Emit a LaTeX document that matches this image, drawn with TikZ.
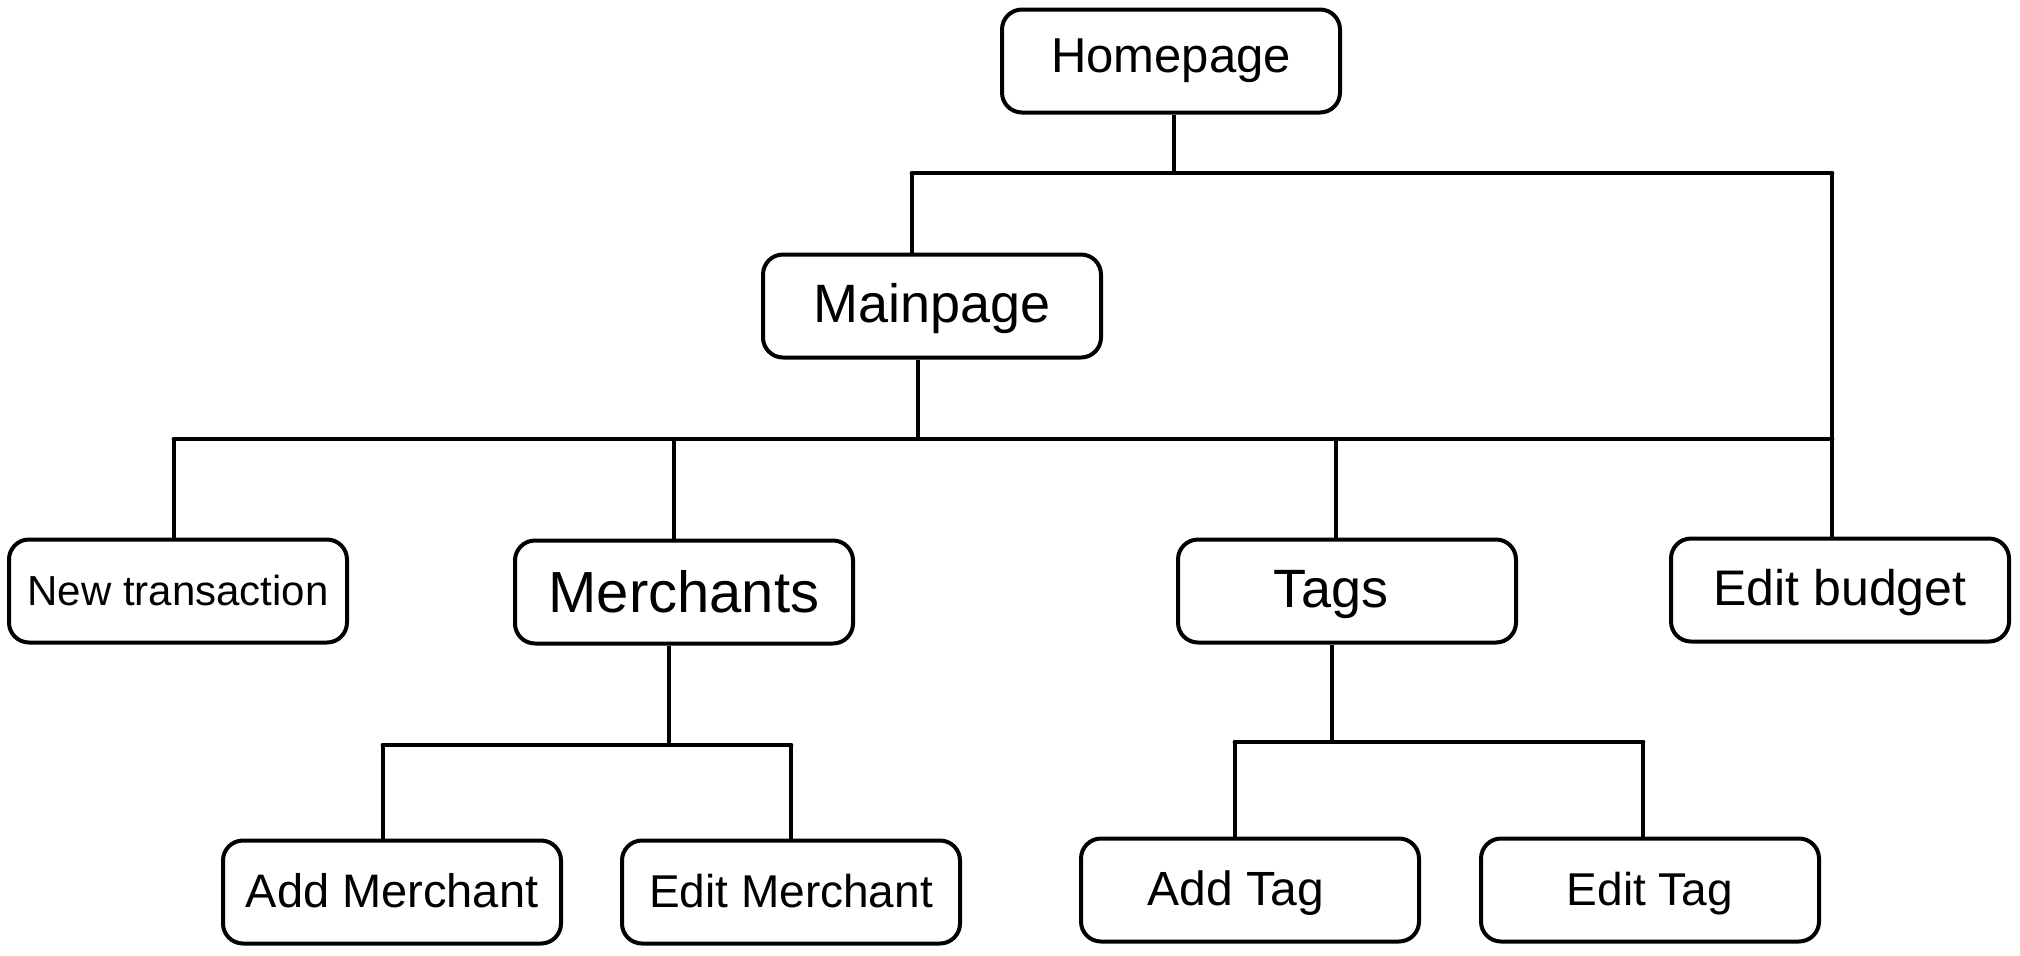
\documentclass[tikz,border=0pt]{standalone}
\usepackage{fontspec}
\setmainfont{Liberation Sans}
\begin{document}
\begin{tikzpicture}[x=0.5pt,y=-0.5pt,
  page/.style={draw=black, line width=2pt, rounded corners=10pt, fill=white,
    minimum width=169pt, minimum height=51.5pt, inner sep=0pt, align=center,
    text height=15pt, text depth=0pt},
  conn/.style={draw=black, line width=1.6pt},
  bus/.style={draw=black, line width=2.4pt, line cap=round}]
\useasboundingbox[fill=white] (0,0) rectangle (2020,955);

% pages
\node[page, text height=11pt, font=\fontsize{24.5}{28}\selectfont] (home) at (1171,61) {Homepage};
\node[page, text height=16pt, font=\fontsize{27}{31}\selectfont]   (main)   at (932,306)  {Mainpage};
\node[page, text height=14pt, font=\fontsize{21}{25}\selectfont]   (newt)   at (178,591)  {New transaction};
\node[page, text height=20pt, font=\fontsize{29}{33}\selectfont]   (merch)  at (684,592)  {Merchants};
\node[page, text height=16pt, font=\fontsize{27}{31}\selectfont]   (tags)   at (1347,591) {Tags\hspace{16pt}};
\node[page, font=\fontsize{25}{29}\selectfont]   (budget) at (1840,590) {Edit budget};
\node[page, font=\fontsize{23.5}{27}\selectfont] (addm)   at (392,892)  {Add Merchant};
\node[page, font=\fontsize{23}{27}\selectfont]   (editm)  at (791,892)  {Edit Merchant};
\node[page, font=\fontsize{24}{28}\selectfont]   (addt)   at (1250,890) {Add Tag\hspace{14pt}};
\node[page, font=\fontsize{23}{27}\selectfont]   (editt)  at (1650,890) {Edit Tag};

% bus junctions
\coordinate (h1) at (1174,173);
\coordinate (b1l) at (912,173);
\coordinate (b1r) at (1832,173);
\coordinate (m1) at (918,439);
\coordinate (b2l) at (174,439);
\coordinate (b2m) at (674,439);
\coordinate (b2t) at (1336,439);
\coordinate (b2r) at (1832,439);
\coordinate (me1) at (669,745);
\coordinate (b3l) at (383,745);
\coordinate (b3r) at (791,745);
\coordinate (t1) at (1332,742);
\coordinate (b4l) at (1235,742);
\coordinate (b4r) at (1643,742);

% Homepage level
\draw[conn] (home.south -| h1) -- (h1);
\draw[bus] (b1l) -- (b1r);
\draw[conn] (b1l) -- (b1l |- main.north);
\draw[conn] (b1r) -- (b1r |- budget.north);

% Mainpage level
\draw[conn] (main.south -| m1) -- (m1);
\draw[bus] (b2l) -- (b2r);
\draw[conn] (b2l) -- (b2l |- newt.north);
\draw[conn] (b2m) -- (b2m |- merch.north);
\draw[conn] (b2t) -- (b2t |- tags.north);

% Merchants level
\draw[conn] (merch.south -| me1) -- (me1);
\draw[bus] (b3l) -- (b3r);
\draw[conn] (b3l) -- (b3l |- addm.north);
\draw[conn] (b3r) -- (b3r |- editm.north);

% Tags level
\draw[conn] (tags.south -| t1) -- (t1);
\draw[bus] (b4l) -- (b4r);
\draw[conn] (b4l) -- (b4l |- addt.north);
\draw[conn] (b4r) -- (b4r |- editt.north);
\end{tikzpicture}
\end{document}
